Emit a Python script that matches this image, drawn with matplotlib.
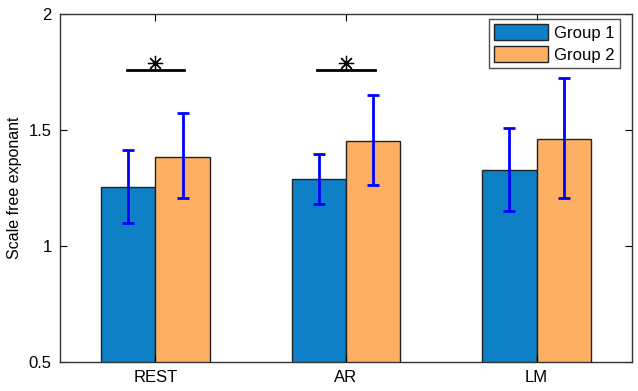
import matplotlib
matplotlib.use('Agg')
import matplotlib.pyplot as plt
import numpy as np

# values
conditions = ['REST', 'AR', 'LM']
group1 = [1.254, 1.287, 1.328]
group2 = [1.384, 1.453, 1.461]
group1_low = [1.099, 1.183, 1.150]
group1_high = [1.414, 1.395, 1.509]
group2_low = [1.205, 1.263, 1.207]
group2_high = [1.573, 1.651, 1.724]
sig_conditions = ['REST', 'AR']
sig_level = 1.76

plt.rcParams['font.family'] = ['Liberation Sans', 'DejaVu Sans']

fig = plt.figure(figsize=(6.38, 3.91), dpi=100)
ax = fig.add_axes([60/638, 1 - 362/391, 572/638, 348/391])

x = np.arange(1, len(conditions) + 1)
w = 0.285
g1 = np.array(group1); g2 = np.array(group2)

ax.bar(x - w/2, g1, w, bottom=0, color='#0d80c6', edgecolor='#222222', linewidth=1, label='Group 1')
ax.bar(x + w/2, g2, w, bottom=0, color='#fdb064', edgecolor='#222222', linewidth=1, label='Group 2')

err1 = [g1 - np.array(group1_low), np.array(group1_high) - g1]
err2 = [g2 - np.array(group2_low), np.array(group2_high) - g2]
ax.errorbar(x - w/2, g1, yerr=err1, fmt='none', ecolor='#0000ff', elinewidth=2, capsize=4, capthick=2)
ax.errorbar(x + w/2, g2, yerr=err2, fmt='none', ecolor='#0000ff', elinewidth=2, capsize=4, capthick=2)

for c in sig_conditions:
    xc = x[conditions.index(c)]
    ax.plot([xc - 0.15, xc + 0.15], [sig_level, sig_level], color='black', linewidth=2)
    ax.plot([xc], [sig_level + 0.028], marker=(8, 2, 0), markersize=11, color='black',
            markeredgewidth=0.9)

ax.set_xlim(0.5, 3.5)
ax.set_ylim(0.5, 2)
ax.set_xticks(x)
ax.set_xticklabels(conditions)
ax.set_yticks([0.5, 1, 1.5, 2])
ax.set_yticklabels(['0.5', '1', '1.5', '2'])
ax.tick_params(direction='in', top=True, right=True, length=5, labelsize=12, pad=6)
for s in ax.spines.values():
    s.set_color('#333333')
    s.set_linewidth(1)
ax.set_ylabel('Scale free exponant', fontsize=11.5, labelpad=5)

leg = ax.legend(loc='upper right', fontsize=12, fancybox=False, edgecolor='#222222',
                handlelength=3.2, handleheight=1.1, handletextpad=0.4,
                borderpad=0.3, labelspacing=0.35, borderaxespad=0,
                bbox_to_anchor=(620/638, 1 - 19/391), bbox_transform=fig.transFigure)
leg.get_frame().set_linewidth(1)

fig.savefig('out.png', dpi=100)
